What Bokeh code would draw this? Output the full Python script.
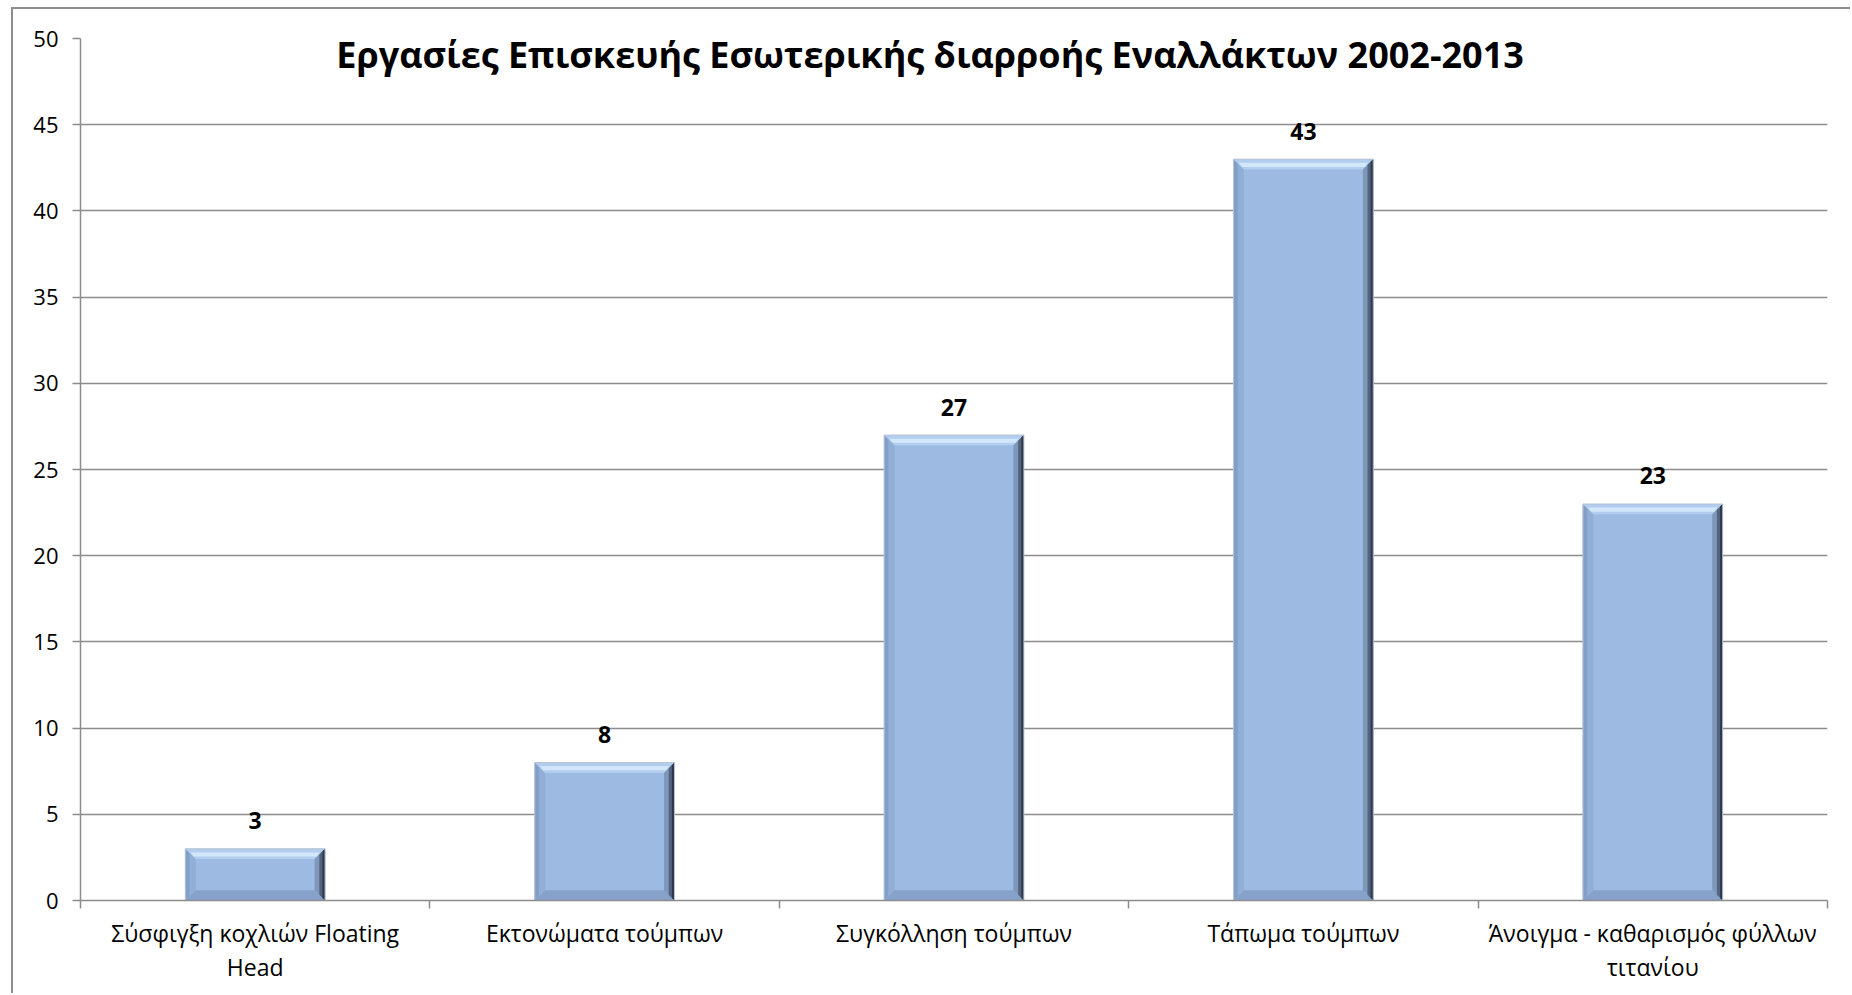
import numpy as np
from bokeh.plotting import figure
from bokeh.models import Range1d, FixedTicker, Label, ColumnDataSource
from bokeh.core.properties import value
from bokeh.embed import file_html
from bokeh.resources import INLINE

title_text = "Εργασίες Επισκευής Εσωτερικής διαρροής Εναλλάκτων  2002-2013"
categories = [
    "Σύσφιγξη κοχλιών Floating\nHead",
    "Εκτονώματα τούμπων",
    "Συγκόλληση τούμπων",
    "Τάπωμα τούμπων",
    "Άνοιγμα - καθαρισμός φύλλων\nτιτανίου",
]
counts = [3, 8, 27, 43, 23]
y_ticks = [0, 5, 10, 15, 20, 25, 30, 35, 40, 45, 50]

FONT = "Open Sans"
GRAY = "#8c8c8c"

n = len(categories)
centers = np.arange(n) + 0.5
vals = np.array(counts, dtype=float)

p = figure(
    width=1839, height=986,
    x_range=Range1d(0, n), y_range=Range1d(0, 50),
    output_backend="svg", toolbar_location=None,
    min_border_left=67, min_border_right=25, min_border_top=29, min_border_bottom=95,
    margin=(7, 0, 0, 11),
)
p.styles = {"border-top": "2px solid #8c8c8c", "border-left": "2px solid #8c8c8c"}
p.outline_line_color = None
p.background_fill_color = "white"
p.border_fill_color = "white"

# grid
p.xgrid.grid_line_color = None
p.ygrid.grid_line_color = GRAY
p.ygrid.grid_line_width = 1.5
p.ygrid.ticker = FixedTicker(ticks=y_ticks)

# y axis
p.yaxis.ticker = FixedTicker(ticks=y_ticks)
p.yaxis.axis_line_color = GRAY
p.yaxis.axis_line_width = 1.5
p.yaxis.major_tick_line_color = GRAY
p.yaxis.major_tick_line_width = 1.5
p.yaxis.major_tick_out = 8
p.yaxis.major_tick_in = 0
p.yaxis.minor_tick_line_color = None
p.yaxis.major_label_text_font = FONT
p.yaxis.major_label_text_font_size = "22px"
p.yaxis.major_label_text_color = "black"
p.yaxis.major_label_standoff = 14

# x axis
p.xaxis.ticker = FixedTicker(ticks=list(centers), minor_ticks=list(np.arange(n + 1)))
p.xaxis.major_label_overrides = {float(c): lab for c, lab in zip(centers, categories)}
p.xaxis.axis_line_color = GRAY
p.xaxis.axis_line_width = 1.5
p.xaxis.major_tick_line_color = None
p.xaxis.minor_tick_line_color = GRAY
p.xaxis.minor_tick_line_width = 1.5
p.xaxis.minor_tick_out = 8
p.xaxis.minor_tick_in = 0
p.xaxis.major_label_text_font = FONT
p.xaxis.major_label_text_font_size = "23px"
p.xaxis.major_label_text_color = "black"
p.xaxis.major_label_standoff = 8
p.xaxis.major_label_text_line_height = 1.08

# bars with bevel effect
h = 0.2
dx = 0.03
dy = 0.6
p.vbar(x=centers, top=vals, width=2 * h, bottom=0, fill_color="#9dbbe2", line_color=None)

def poly(pts_fn):
    xs, ys = [], []
    for c, v in zip(centers, vals):
        pts = pts_fn(c, v)
        xs.append([q[0] for q in pts])
        ys.append([q[1] for q in pts])
    return xs, ys

# left bevel
xs, ys = poly(lambda c, v: [(c - h, 0), (c - h, v), (c - h + dx, v - dy), (c - h + dx, dy)])
p.patches(xs, ys, fill_color="#91aed6", line_color=None)
xs, ys = poly(lambda c, v: [(c - h, 0), (c - h, v), (c - h + dx * 0.4, v - dy * 0.4), (c - h + dx * 0.4, dy * 0.4)])
p.patches(xs, ys, fill_color="#829fc7", line_color=None)
# bottom bevel
xs, ys = poly(lambda c, v: [(c - h, 0), (c + h, 0), (c + h - dx, dy), (c - h + dx, dy)])
p.patches(xs, ys, fill_color="#86a2ca", line_color=None)
# top bevel
xs, ys = poly(lambda c, v: [(c - h, v), (c + h, v), (c + h - dx, v - dy), (c - h + dx, v - dy)])
p.patches(xs, ys, fill_color="#b2cdee", line_color=None)
xs, ys = poly(lambda c, v: [(c - h + dx * 0.5, v - dy * 0.35), (c + h - dx * 0.5, v - dy * 0.35),
                            (c + h - dx * 0.8, v - dy * 0.75), (c - h + dx * 0.8, v - dy * 0.75)])
p.patches(xs, ys, fill_color="#d3e7fb", line_color=None)
# right bevel (dark gradient)
xs, ys = poly(lambda c, v: [(c + h, 0), (c + h, v), (c + h - dx, v - dy), (c + h - dx, dy)])
p.patches(xs, ys, fill_color="#7e97bb", line_color=None)
xs, ys = poly(lambda c, v: [(c + h, 0), (c + h, v), (c + h - dx * 0.55, v - dy * 0.55), (c + h - dx * 0.55, dy * 0.55)])
p.patches(xs, ys, fill_color="#53647f", line_color=None)
xs, ys = poly(lambda c, v: [(c + h, 0), (c + h, v), (c + h - dx * 0.25, v - dy * 0.25), (c + h - dx * 0.25, dy * 0.25)])
p.patches(xs, ys, fill_color="#2e394a", line_color=None)
# thin outer edge
p.vbar(x=centers, top=vals, width=2 * h, bottom=0, fill_color=None, line_color="#b8c4d4", line_width=1)

# value labels
src = ColumnDataSource(dict(x=centers, y=vals, t=[str(c) for c in counts]))
p.text(x="x", y="y", text="t", source=src, y_offset=-28,
       text_font=value(FONT), text_font_style="bold", text_font_size="23px",
       text_align="center", text_baseline="alphabetic", text_color="black")

# chart title
p.add_layout(Label(x=2.445, y=49.05, text=title_text, text_font=FONT, text_font_style="bold",
                   text_font_size="36px", text_align="center", text_baseline="alphabetic",
                   text_color="black"))

open("out.html", "w").write(file_html(p, INLINE))
